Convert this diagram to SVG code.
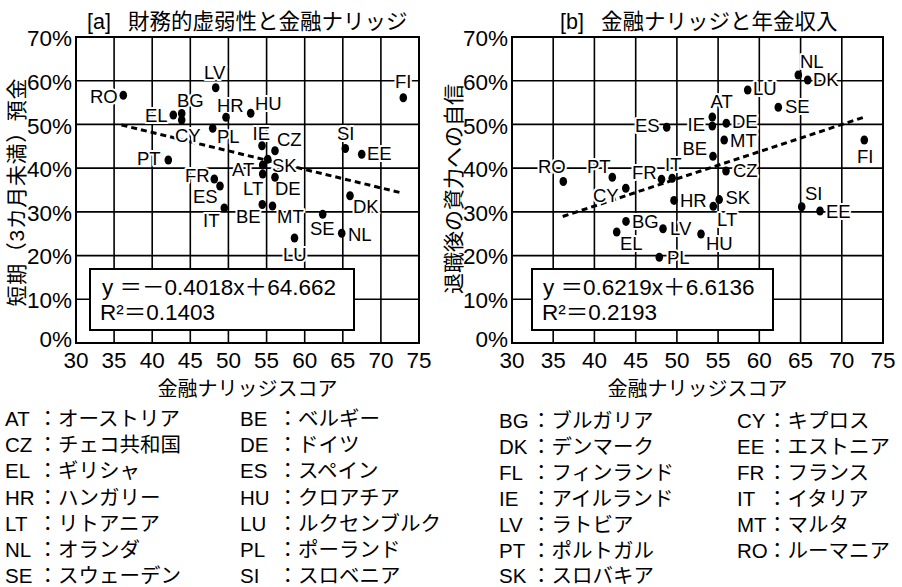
<svg xmlns="http://www.w3.org/2000/svg" width="902" height="587" viewBox="0 0 902 587">
<style>
  text { font-family: "Liberation Sans", "Noto Sans CJK JP", sans-serif; fill: #000; }
  .title { font-size: 21.5px; }
  .axt { font-size: 20px; }
  .ytl { font-size: 21px; }
  .tick { font-size: 22.5px; }
  .tx { text-anchor: middle; }
  .ty { text-anchor: end; }
  .grid { stroke: #000; stroke-width: 1.6; fill: none; }
  .frame { stroke: #000; stroke-width: 2; fill: none; }
  .trend { stroke: #000; stroke-width: 3; stroke-dasharray: 6 4; fill: none; }
  .lbl { font-size: 18.5px; paint-order: stroke; stroke: #fff; stroke-width: 4; stroke-linejoin: round; }
  .pt ellipse { fill: #000; }
  .eqbox { fill: #fff; stroke: #000; stroke-width: 2; }
  .eq { font-size: 22.5px; }
  .cjk { font-family: "Noto Sans CJK JP", sans-serif; }
  .leg { font-size: 20.5px; }
</style>
<rect width="902" height="587" fill="#fff"/>

<!-- ===== Chart a ===== -->
<g id="chart-a">
  <text class="title" x="87" y="29">[a]<tspan x="128">財務的虚弱性と金融ナリッジ</tspan></text>
  <g id="a-grid">
    <path class="grid" d="M114.1 37V343M152.2 37V343M190.3 37V343M228.4 37V343M266.6 37V343M304.7 37V343M342.8 37V343M380.9 37V343M76 299.3H419M76 255.6H419M76 211.9H419M76 168.1H419M76 124.4H419M76 80.7H419"/>
    <rect class="frame" x="76" y="37" width="343" height="306"/>
  </g>
  <g id="a-yticks" class="tick ty">
    <text x="72" y="46">70%</text>
    <text x="72" y="90">60%</text>
    <text x="72" y="133.5">50%</text>
    <text x="72" y="177">40%</text>
    <text x="72" y="220.5">30%</text>
    <text x="72" y="264">20%</text>
    <text x="72" y="307.5">10%</text>
    <text x="72" y="347">0%</text>
  </g>
  <g id="a-xticks" class="tick tx">
    <text x="76" y="367.7">30</text>
    <text x="114.1" y="367.7">35</text>
    <text x="152.2" y="367.7">40</text>
    <text x="190.3" y="367.7">45</text>
    <text x="228.4" y="367.7">50</text>
    <text x="266.6" y="367.7">55</text>
    <text x="304.7" y="367.7">60</text>
    <text x="342.8" y="367.7">65</text>
    <text x="380.9" y="367.7">70</text>
    <text x="419" y="367.7">75</text>
  </g>
  <text class="axt tx" x="247.5" y="396">金融ナリッジスコア</text>
  <text class="ytl tx" transform="translate(23.5,192.5) rotate(-90)" textLength="228" lengthAdjust="spacing">短期（3カ月未満）預金</text>
</g>

<!-- ===== Chart b ===== -->
<g id="chart-b">
  <text class="title" x="560" y="29">[b]<tspan x="601">金融ナリッジと年金収入</tspan></text>
  <g id="b-grid">
    <path class="grid" d="M553.2 37V343M594.4 37V343M635.7 37V343M676.9 37V343M718.1 37V343M759.3 37V343M800.6 37V343M841.8 37V343M512 299.3H883M512 255.6H883M512 211.9H883M512 168.1H883M512 124.4H883M512 80.7H883"/>
    <rect class="frame" x="512" y="37" width="371" height="306"/>
  </g>
  <g id="b-yticks" class="tick ty">
    <text x="508" y="46">70%</text>
    <text x="508" y="90">60%</text>
    <text x="508" y="133.5">50%</text>
    <text x="508" y="177">40%</text>
    <text x="508" y="220.5">30%</text>
    <text x="508" y="264">20%</text>
    <text x="508" y="307.5">10%</text>
    <text x="508" y="347">0%</text>
  </g>
  <g id="b-xticks" class="tick tx">
    <text x="512" y="367.7">30</text>
    <text x="553.2" y="367.7">35</text>
    <text x="594.4" y="367.7">40</text>
    <text x="635.7" y="367.7">45</text>
    <text x="676.9" y="367.7">50</text>
    <text x="718.1" y="367.7">55</text>
    <text x="759.3" y="367.7">60</text>
    <text x="800.6" y="367.7">65</text>
    <text x="841.8" y="367.7">70</text>
    <text x="883" y="367.7">75</text>
  </g>
  <text class="axt tx" x="697.5" y="396">金融ナリッジスコア</text>
  <text class="ytl tx" transform="translate(461,189) rotate(-90)">退職後の資力への自信</text>
</g>

<!-- ===== Trend lines ===== -->
<g id="connectors">
  <line class="trend" x1="121.5" y1="125" x2="402" y2="193"/>
  <line class="trend" x1="562.7" y1="216.5" x2="866" y2="116.5"/>
</g>

<!-- ===== Points chart a ===== -->
<g id="a-points" class="pt">
  <g id="a-RO"><text class="lbl" x="90" y="103">RO</text><ellipse cx="123.3" cy="95.3" rx="3.8" ry="4.5"/></g>
  <g id="a-LV"><text class="lbl" x="204" y="79">LV</text><ellipse cx="215.7" cy="87.7" rx="3.8" ry="4.5"/></g>
  <g id="a-FI"><text class="lbl" x="395" y="88">FI</text><ellipse cx="403.3" cy="97.7" rx="3.8" ry="4.5"/></g>
  <g id="a-EL"><text class="lbl" x="145" y="121.5">EL</text><ellipse cx="173.3" cy="115" rx="3.8" ry="4.5"/></g>
  <g id="a-BG"><text class="lbl" x="177" y="106.5">BG</text><ellipse cx="181.7" cy="113.5" rx="3.8" ry="4.5"/></g>
  <g id="a-CY"><text class="lbl" x="175" y="141.5">CY</text><ellipse cx="181.7" cy="120" rx="3.8" ry="4.5"/></g>
  <g id="a-HR"><text class="lbl" x="217" y="111.5">HR</text><ellipse cx="226" cy="117.3" rx="3.8" ry="4.5"/></g>
  <g id="a-HU"><text class="lbl" x="255" y="110">HU</text><ellipse cx="250.7" cy="113.3" rx="3.8" ry="4.5"/></g>
  <g id="a-PL"><text class="lbl" x="217" y="143.3">PL</text><ellipse cx="212.7" cy="128.3" rx="3.8" ry="4.5"/></g>
  <g id="a-IE"><text class="lbl" x="252.5" y="140">IE</text><ellipse cx="262" cy="145.7" rx="3.8" ry="4.5"/></g>
  <g id="a-CZ"><text class="lbl" x="277" y="145.5">CZ</text><ellipse cx="275" cy="150.7" rx="3.8" ry="4.5"/></g>
  <g id="a-SI"><text class="lbl" x="337" y="140">SI</text><ellipse cx="345.3" cy="148.5" rx="3.8" ry="4.5"/></g>
  <g id="a-EE"><text class="lbl" x="367" y="160">EE</text><ellipse cx="361.7" cy="154.3" rx="3.8" ry="4.5"/></g>
  <g id="a-PT"><text class="lbl" x="137" y="165">PT</text><ellipse cx="168.3" cy="160" rx="3.8" ry="4.5"/></g>
  <g id="a-SK"><text class="lbl" x="272" y="171.7">SK</text><ellipse cx="267.7" cy="159.3" rx="3.8" ry="4.5"/></g>
  <g id="a-AT"><text class="lbl" x="232" y="175.5">AT</text><ellipse cx="262.7" cy="165" rx="3.8" ry="4.5"/></g>
  <g id="a-LT"><text class="lbl" x="243" y="195">LT</text><ellipse cx="262.7" cy="174" rx="3.8" ry="4.5"/></g>
  <g id="a-DE"><text class="lbl" x="275" y="195">DE</text><ellipse cx="275" cy="177.3" rx="3.8" ry="4.5"/></g>
  <g id="a-FR"><text class="lbl" x="185" y="182">FR</text><ellipse cx="214.3" cy="179" rx="3.8" ry="4.5"/></g>
  <g id="a-ES"><text class="lbl" x="193" y="203.3">ES</text><ellipse cx="220" cy="186" rx="3.8" ry="4.5"/></g>
  <g id="a-IT"><text class="lbl" x="203" y="226.7">IT</text><ellipse cx="224.3" cy="208" rx="3.8" ry="4.5"/></g>
  <g id="a-BE"><text class="lbl" x="236" y="223.3">BE</text><ellipse cx="262.3" cy="204.5" rx="3.8" ry="4.5"/></g>
  <g id="a-MT"><text class="lbl" x="277" y="223.3">MT</text><ellipse cx="272.5" cy="206" rx="3.8" ry="4.5"/></g>
  <g id="a-SE"><text class="lbl" x="310" y="235">SE</text><ellipse cx="322.7" cy="214.3" rx="3.8" ry="4.5"/></g>
  <g id="a-LU"><text class="lbl" x="283" y="261">LU</text><ellipse cx="294.5" cy="238" rx="3.8" ry="4.5"/></g>
  <g id="a-NL"><text class="lbl" x="348" y="241">NL</text><ellipse cx="341.7" cy="233.3" rx="3.8" ry="4.5"/></g>
  <g id="a-DK"><text class="lbl" x="353" y="213.3">DK</text><ellipse cx="350" cy="195.7" rx="3.8" ry="4.5"/></g>
</g>

<!-- ===== Points chart b ===== -->
<g id="b-points" class="pt">
  <g id="b-NL"><text class="lbl" x="800" y="68.3">NL</text><ellipse cx="798.3" cy="75" rx="3.8" ry="4.5"/></g>
  <g id="b-DK"><text class="lbl" x="813" y="86">DK</text><ellipse cx="807.7" cy="80" rx="3.8" ry="4.5"/></g>
  <g id="b-LU"><text class="lbl" x="753" y="95">LU</text><ellipse cx="747.7" cy="90" rx="3.8" ry="4.5"/></g>
  <g id="b-SE"><text class="lbl" x="785" y="113.3">SE</text><ellipse cx="778.3" cy="107.3" rx="3.8" ry="4.5"/></g>
  <g id="b-AT"><text class="lbl" x="710.5" y="108.3">AT</text><ellipse cx="712.3" cy="117" rx="3.8" ry="4.5"/></g>
  <g id="b-IE"><text class="lbl" x="687.5" y="131">IE</text><ellipse cx="712.3" cy="126" rx="3.8" ry="4.5"/></g>
  <g id="b-DE"><text class="lbl" x="732" y="128.3">DE</text><ellipse cx="726.3" cy="123.3" rx="3.8" ry="4.5"/></g>
  <g id="b-ES"><text class="lbl" x="635" y="132">ES</text><ellipse cx="666.7" cy="127.3" rx="3.8" ry="4.5"/></g>
  <g id="b-MT"><text class="lbl" x="730" y="146.7">MT</text><ellipse cx="724.2" cy="140" rx="3.8" ry="4.5"/></g>
  <g id="b-BE"><text class="lbl" x="682.5" y="155">BE</text><ellipse cx="713" cy="156.3" rx="3.8" ry="4.5"/></g>
  <g id="b-FI"><text class="lbl" x="857" y="163.3">FI</text><ellipse cx="864.3" cy="140" rx="3.8" ry="4.5"/></g>
  <g id="b-CZ"><text class="lbl" x="733" y="176.7">CZ</text><ellipse cx="726" cy="171" rx="3.8" ry="4.5"/></g>
  <g id="b-RO"><text class="lbl" x="538" y="173.3">RO</text><ellipse cx="563.3" cy="181.5" rx="3.8" ry="4.5"/></g>
  <g id="b-PT"><text class="lbl" x="587" y="172.5">PT</text><ellipse cx="612.3" cy="177.3" rx="3.8" ry="4.5"/></g>
  <g id="b-FR"><text class="lbl" x="632" y="179">FR</text><ellipse cx="661.5" cy="179.2" rx="3.8" ry="4.5"/></g>
  <g id="b-IT"><text class="lbl" x="665" y="171">IT</text><ellipse cx="672.2" cy="178.3" rx="3.8" ry="4.5"/></g>
  <g id="b-CY"><text class="lbl" x="593" y="201.7">CY</text><ellipse cx="625.8" cy="188.3" rx="3.8" ry="4.5"/></g>
  <g id="b-HR"><text class="lbl" x="680" y="206.7">HR</text><ellipse cx="674" cy="200.4" rx="3.8" ry="4.5"/></g>
  <g id="b-SK"><text class="lbl" x="725.5" y="204">SK</text><ellipse cx="719.2" cy="199.6" rx="3.8" ry="4.5"/></g>
  <g id="b-LT"><text class="lbl" x="717" y="225.5">LT</text><ellipse cx="713.3" cy="206.3" rx="3.8" ry="4.5"/></g>
  <g id="b-SI"><text class="lbl" x="805" y="200">SI</text><ellipse cx="801.7" cy="206.7" rx="3.8" ry="4.5"/></g>
  <g id="b-EE"><text class="lbl" x="826" y="217.7">EE</text><ellipse cx="820" cy="211" rx="3.8" ry="4.5"/></g>
  <g id="b-BG"><text class="lbl" x="632" y="227.8">BG</text><ellipse cx="626" cy="221.4" rx="3.8" ry="4.5"/></g>
  <g id="b-EL"><text class="lbl" x="620" y="249.7">EL</text><ellipse cx="616.7" cy="232" rx="3.8" ry="4.5"/></g>
  <g id="b-LV"><text class="lbl" x="670" y="235.3">LV</text><ellipse cx="663" cy="228.8" rx="3.8" ry="4.5"/></g>
  <g id="b-HU"><text class="lbl" x="706" y="250">HU</text><ellipse cx="701" cy="234" rx="3.8" ry="4.5"/></g>
  <g id="b-PL"><text class="lbl" x="667" y="264">PL</text><ellipse cx="659.3" cy="257.3" rx="3.8" ry="4.5"/></g>
</g>

<!-- ===== Regression boxes ===== -->
<g id="a-eq">
  <rect class="eqbox" x="90" y="269" width="264" height="61"/>
  <text class="eq" x="102" y="295">y <tspan class="cjk">＝－</tspan>0.4018x<tspan class="cjk">＋</tspan>64.662</text>
  <text class="eq" x="100" y="320">R²<tspan class="cjk">＝</tspan>0.1403</text>
</g>
<g id="b-eq">
  <rect class="eqbox" x="532" y="269" width="241" height="61"/>
  <text class="eq" x="543" y="295">y <tspan class="cjk">＝</tspan>0.6219x<tspan class="cjk">＋</tspan>6.6136</text>
  <text class="eq" x="542" y="320">R²<tspan class="cjk">＝</tspan>0.2193</text>
</g>

<!-- ===== Legend ===== -->
<g id="legend" class="leg">
  <text x="5" y="426">AT<tspan x="37.5">：オーストリア</tspan></text>
  <text x="5" y="452.2">CZ<tspan x="37.5">：チェコ共和国</tspan></text>
  <text x="5" y="478.4">EL<tspan x="37.5">：ギリシャ</tspan></text>
  <text x="5" y="504.6">HR<tspan x="37.5">：ハンガリー</tspan></text>
  <text x="5" y="530.8">LT<tspan x="37.5">：リトアニア</tspan></text>
  <text x="5" y="557">NL<tspan x="37.5">：オランダ</tspan></text>
  <text x="5" y="583.2">SE<tspan x="37.5">：スウェーデン</tspan></text>

  <text x="240" y="426">BE<tspan x="277.5">：ベルギー</tspan></text>
  <text x="240" y="452.2">DE<tspan x="277.5">：ドイツ</tspan></text>
  <text x="240" y="478.4">ES<tspan x="277.5">：スペイン</tspan></text>
  <text x="240" y="504.6">HU<tspan x="277.5">：クロアチア</tspan></text>
  <text x="240" y="530.8">LU<tspan x="277.5">：ルクセンブルク</tspan></text>
  <text x="240" y="557">PL<tspan x="277.5">：ポーランド</tspan></text>
  <text x="240" y="583.2">SI<tspan x="277.5">：スロベニア</tspan></text>

  <text x="499" y="428">BG<tspan x="531">：ブルガリア</tspan></text>
  <text x="499" y="453.9">DK<tspan x="531">：デンマーク</tspan></text>
  <text x="499" y="479.8">FL<tspan x="531">：フィンランド</tspan></text>
  <text x="499" y="505.7">IE<tspan x="531">：アイルランド</tspan></text>
  <text x="499" y="531.6">LV<tspan x="531">：ラトビア</tspan></text>
  <text x="499" y="557.5">PT<tspan x="531">：ポルトガル</tspan></text>
  <text x="499" y="583.4">SK<tspan x="531">：スロバキア</tspan></text>

  <text x="737" y="428">CY<tspan x="767">：キプロス</tspan></text>
  <text x="737" y="453.9">EE<tspan x="767">：エストニア</tspan></text>
  <text x="737" y="479.8">FR<tspan x="767">：フランス</tspan></text>
  <text x="737" y="505.7">IT<tspan x="767">：イタリア</tspan></text>
  <text x="737" y="531.6">MT<tspan x="767">：マルタ</tspan></text>
  <text x="737" y="557.5">RO<tspan x="767">：ルーマニア</tspan></text>
</g>
</svg>
